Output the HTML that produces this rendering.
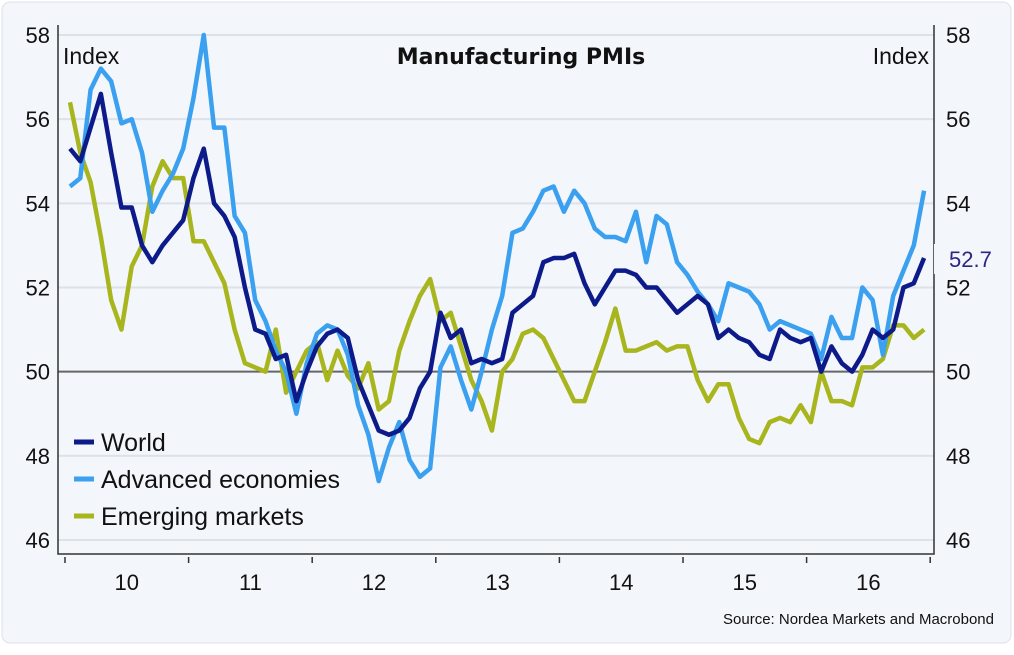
<!DOCTYPE html>
<html><head><meta charset="utf-8"><style>
body{margin:0;background:#fff;font-family:"Liberation Sans",sans-serif}
svg text{font-family:"Liberation Sans",sans-serif}
</style></head><body>
<svg width="1014" height="650">
<rect x="2" y="2" width="1009" height="641" rx="8" fill="#f3f6fb" stroke="#dde2ea"/>
<g id="grid"></g>
<g id="axes"></g>
<g id="series"></g>
<text x="521" y="64" text-anchor="middle" font-size="22" font-weight="bold" fill="#111" style="font-family:'DejaVu Sans',sans-serif">Manufacturing PMIs</text>
<text x="63" y="64" font-size="23" fill="#111">Index</text>
<text x="929" y="64" text-anchor="end" font-size="23" fill="#111">Index</text>
<rect x="934" y="244" width="62" height="30" fill="#f3f6fb"/>
<text x="949" y="267" font-size="22" fill="#2b2683">52.7</text>
<g>
<line x1="74" y1="442" x2="94" y2="442" stroke="#0d1a8a" stroke-width="5"/>
<text x="101" y="451" font-size="25" fill="#111">World</text>
<line x1="74" y1="479" x2="94" y2="479" stroke="#3aa0ef" stroke-width="5"/>
<text x="101" y="488" font-size="25" fill="#111">Advanced economies</text>
<line x1="74" y1="516" x2="94" y2="516" stroke="#a8b51c" stroke-width="5"/>
<text x="101" y="525" font-size="25" fill="#111">Emerging markets</text>
</g>
<text x="994" y="624" text-anchor="end" font-size="15" fill="#111">Source: Nordea Markets and Macrobond</text>
</svg>
<script>
const yTicks=[46,48,50,52,54,56,58];
const years=["10","11","12","13","14","15","16"];
const world=[55.3,55.0,55.8,56.6,55.2,53.9,53.9,53.0,52.6,53.0,53.3,53.6,54.6,55.3,54.0,53.7,53.2,52.0,51.0,50.9,50.3,50.4,49.3,50.0,50.6,50.9,51.0,50.8,49.8,49.2,48.6,48.5,48.6,48.9,49.6,50.0,51.4,50.8,51.0,50.2,50.3,50.2,50.3,51.4,51.6,51.8,52.6,52.7,52.7,52.8,52.1,51.6,52.0,52.4,52.4,52.3,52.0,52.0,51.7,51.4,51.6,51.8,51.6,50.8,51.0,50.8,50.7,50.4,50.3,51.0,50.8,50.7,50.8,50.0,50.6,50.2,50.0,50.4,51.0,50.8,51.0,52.0,52.1,52.7];
const advanced=[54.4,54.6,56.7,57.2,56.9,55.9,56.0,55.2,53.8,54.3,54.7,55.3,56.5,58.0,55.8,55.8,53.7,53.3,51.7,51.2,50.5,50.0,49.0,50.2,50.9,51.1,51.0,50.4,49.2,48.5,47.4,48.2,48.8,47.9,47.5,47.7,50.1,50.6,49.8,49.1,50.0,51.0,51.8,53.3,53.4,53.8,54.3,54.4,53.8,54.3,54.0,53.4,53.2,53.2,53.1,53.8,52.6,53.7,53.5,52.6,52.3,51.9,51.6,51.2,52.1,52.0,51.9,51.6,51.0,51.2,51.1,51.0,50.9,50.3,51.3,50.8,50.8,52.0,51.7,50.4,51.8,52.4,53.0,54.3];
const emerging=[56.4,55.2,54.5,53.2,51.7,51.0,52.5,53.0,54.4,55.0,54.6,54.6,53.1,53.1,52.6,52.1,51.0,50.2,50.1,50.0,51.0,49.5,50.0,50.5,50.7,49.8,50.5,49.9,49.6,50.2,49.1,49.3,50.5,51.2,51.8,52.2,51.2,51.4,50.6,49.8,49.3,48.6,50.0,50.3,50.9,51.0,50.8,50.3,49.8,49.3,49.3,50.0,50.7,51.5,50.5,50.5,50.6,50.7,50.5,50.6,50.6,49.8,49.3,49.7,49.7,48.9,48.4,48.3,48.8,48.9,48.8,49.2,48.8,50.0,49.3,49.3,49.2,50.1,50.1,50.3,51.1,51.1,50.8,51.0];
const NS="http://www.svgns.com".replace("svgns.com","w3.org/2000/svg");
const L=58,R=934,T=35,B=554;
const y=v=>35+(58-v)*42.08;
const x=i=>70+i*10.29;
const yearX=k=>65+k*123.6;
function mk(t,a,p){const e=document.createElementNS(NS,t);for(const k in a)e.setAttribute(k,a[k]);document.getElementById(p).appendChild(e);return e;}
yTicks.forEach(v=>{
  const g=mk("line",{x1:L,x2:R,y1:y(v),y2:y(v),stroke:v===50?"#666":"#dde1e8","stroke-width":2},"grid");
  
  
  const t1=mk("text",{x:50,y:y(v)+8,"text-anchor":"end","font-size":22,fill:"#111"},"axes");t1.textContent=v;
  
  
  const t2=mk("text",{x:946,y:y(v)+8,"font-size":22,fill:"#111"},"axes");t2.textContent=v;
  
  
});
const ax=mk("path",{d:`M${L} ${T-10}V${B}H${R}V${T-10}`,fill:"none",stroke:"#333","stroke-width":1.5},"axes");


for(let k=0;k<=7;k++){
  const tk=mk("line",{x1:yearX(k),x2:yearX(k),y1:557,y2:563,stroke:"#333","stroke-width":1.5},"axes");
  
  
}
years.forEach((s,k)=>{
  const t=mk("text",{x:yearX(k)+61.8,y:590,"text-anchor":"middle","font-size":22,fill:"#111"},"axes");t.textContent=s;
  
  
});
[[emerging,"#a8b51c","emerging-line"],[advanced,"#3aa0ef","advanced-line"],[world,"#0d1a8a","world-line"]].forEach(([d,c,n])=>{
  const p=mk("polyline",{points:d.map((v,i)=>x(i)+","+y(v)).join(" "),fill:"none",stroke:c,"stroke-width":4.5,"stroke-linejoin":"round"},"series");
  
  
});
</script>
</body></html>
